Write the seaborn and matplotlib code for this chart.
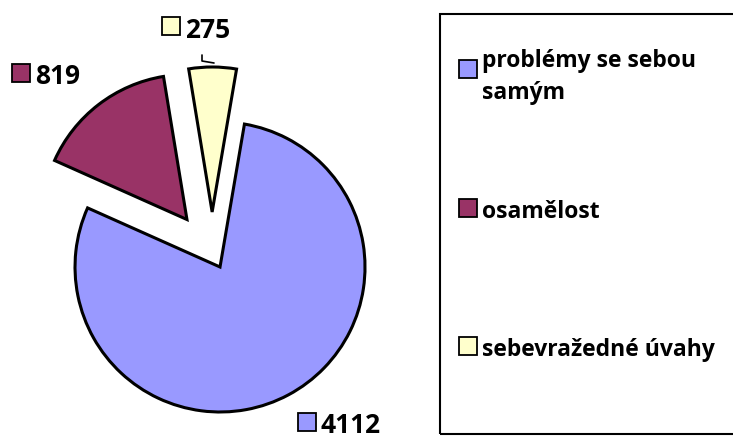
import matplotlib
matplotlib.use('Agg')
import matplotlib.pyplot as plt
import seaborn as sns
from matplotlib.patches import Rectangle

# data
categories = ['problémy se sebou\nsamým', 'osamělost', 'sebevražedné úvahy']
values = [4112, 819, 275]
colors = ['#9999FF', '#993366', '#FFFFCC']

sns.set_theme(style='white')
plt.rcParams['font.family'] = ['Open Sans', 'DejaVu Sans']

W, H = 733, 439
fig = plt.figure(figsize=(W / 100, H / 100), dpi=100)
ax = fig.add_axes([0, 0, 1, 1])

# pie (pixel units, y up)
ax.pie(values, colors=colors, radius=145, center=(212, H - 253),
       startangle=80.3, counterclock=False, explode=[17, 41, 40],
       wedgeprops=dict(edgecolor='black', linewidth=2.2), frame=True)
ax.set_xlim(0, W)
ax.set_ylim(0, H)
ax.set_aspect('equal')
ax.axis('off')

# data labels: square marker + value
label_pos = [(307, H - 423), (21, H - 74), (171, H - 27)]
for v, c, (x, y) in zip(values, colors, label_pos):
    ax.plot(x, y, marker='s', markersize=13, markerfacecolor=c,
            markeredgecolor='black', markeredgewidth=1.3, ls='none')
    ax.text(x + 14, y, str(v), fontsize=19, fontweight='bold',
            ha='left', va='center_baseline', color='black')

# leader line for the small slice
ax.plot([202, 202, 214], [H - 56, H - 62, H - 64], color='black', lw=1.2)

# legend
ax.add_patch(Rectangle((440, H - 435), 300, 420, fill=False,
                       edgecolor='black', linewidth=1.5, clip_on=False))
legend_y = [70, 209, 347]
for lab, c, y in zip(categories, colors, legend_y):
    ax.plot(468, H - y, marker='s', markersize=13, markerfacecolor=c,
            markeredgecolor='black', markeredgewidth=1.3, ls='none')
    ax.text(482, H - y, lab, fontsize=16.5, fontweight='bold',
            ha='left', va='center_baseline', linespacing=1.45, color='black')

fig.savefig('out.png', dpi=100)
